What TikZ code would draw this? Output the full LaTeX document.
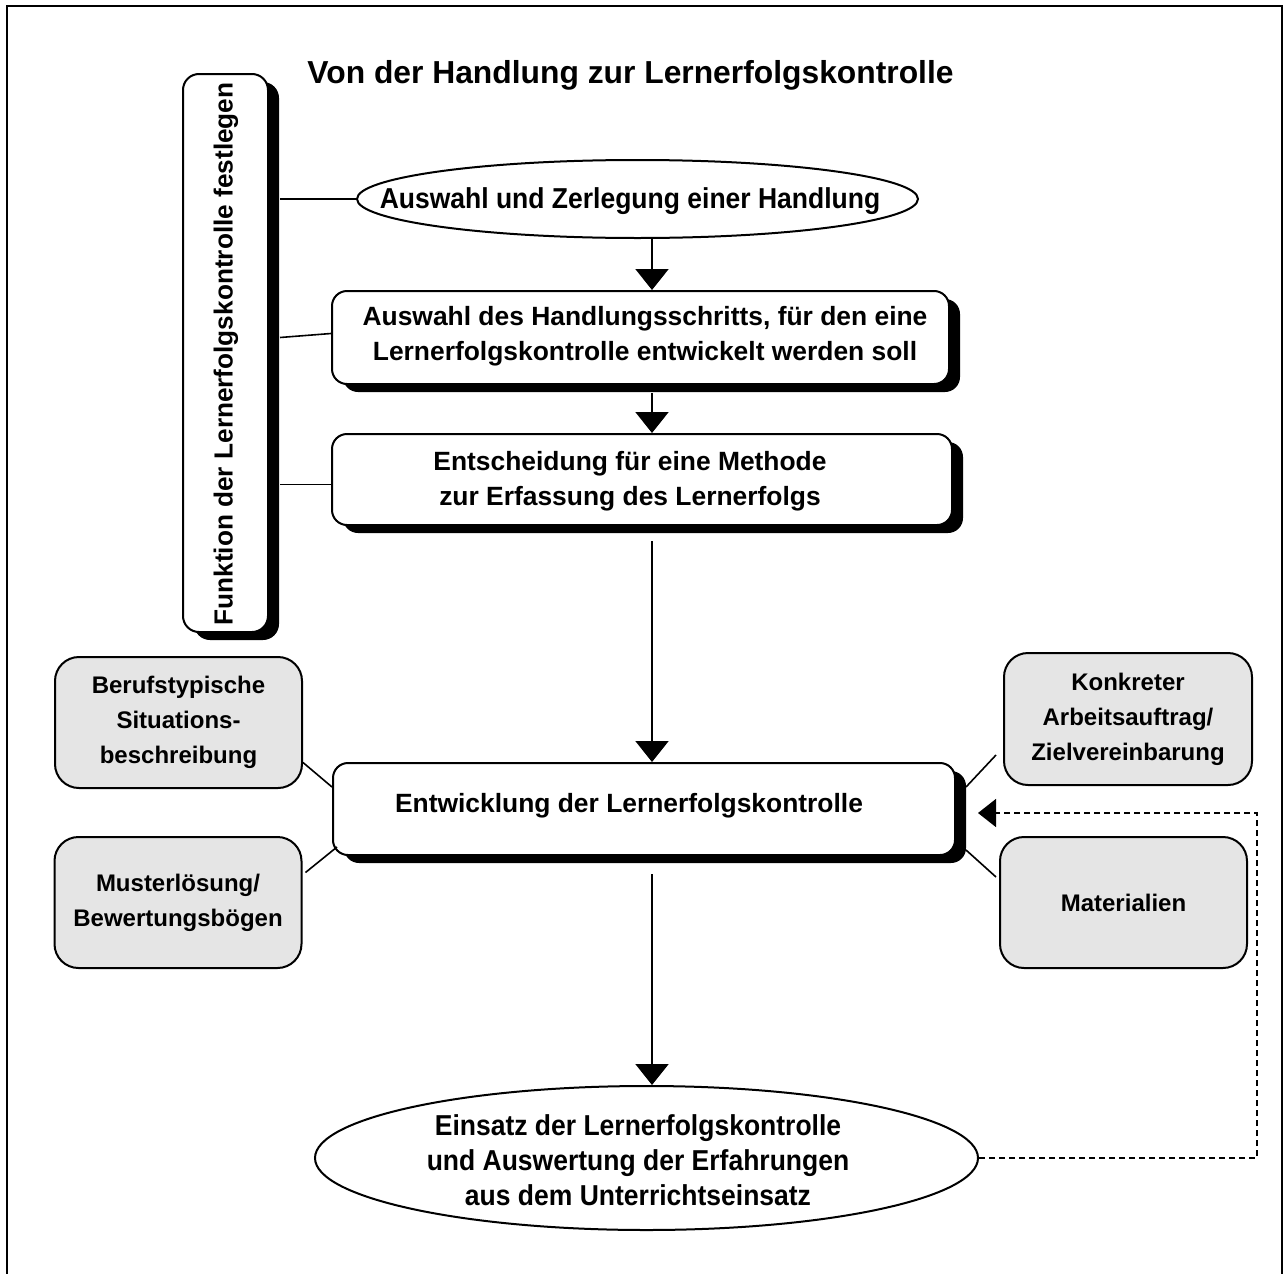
\documentclass[tikz,border=0pt]{standalone}
\usepackage{fontspec}
\setmainfont{Liberation Sans}
\newfontfamily\elf{Liberation Sans}[FakeStretch=0.92]
\usetikzlibrary{shapes.geometric,arrows.meta,shadows,calc}
\definecolor{gfill}{HTML}{E5E5E5}
\begin{document}
\begin{tikzpicture}[x=0.5pt,y=-0.5pt,
  wbox/.style={draw, line width=1pt, rounded corners=7.5pt, fill=white, inner sep=0,
    drop shadow={shadow xshift=5.5pt,shadow yshift=-4pt,fill=black,opacity=1}},
  gbox/.style={draw, line width=1pt, rounded corners=12pt, fill=gfill, minimum width=123.5pt,
    minimum height=65.5pt, align=center, inner sep=0,
    font=\fontsize{12pt}{17.5pt}\selectfont\bfseries},
  ellnode/.style={draw, ellipse, line width=1pt, fill=white, inner sep=0},
  btxt/.style={align=center, inner sep=0, font=\fontsize{13.2pt}{17.5pt}\selectfont\bfseries},
  etxt/.style={align=center, inner sep=0, font=\elf\fontsize{14.4pt}{17.5pt}\selectfont\bfseries},
  flowarrow/.style={line width=1pt, -{Triangle[width=16.5pt,length=10.5pt]}},
  connline/.style={line width=0.8pt},
  backarrow/.style={line width=0.8pt, dash pattern=on 3pt off 2pt, -{Triangle[width=14pt,length=9pt]}},
]
\useasboundingbox (0,0) rectangle (1285,1274);
% frame
\draw[line width=1pt] (7,1274) -- (7,6) -- (1282,6) -- (1282,1274);

% title
\node[anchor=base, inner sep=0, font=\fontsize{15.9pt}{18pt}\selectfont\bfseries] (title) at (630.5,83) {Von der Handlung zur Lernerfolgskontrolle};

% vertical box
\node[wbox, rounded corners=8pt, minimum width=42.5pt, minimum height=279pt] (vbox) at (225.5,353) {};
\node[btxt, rotate=90, font=\fontsize{13.1pt}{15pt}\selectfont\bfseries] (vtxt) at (226,354) {Funktion der Lernerfolgskontrolle festlegen};

% main flow
\node[ellnode, minimum width=280.5pt, minimum height=39pt] (e1) at (637.5,199) {};
\node[etxt, anchor=base] (t1) at (630,208) {Auswahl und Zerlegung einer Handlung};

\node[wbox, minimum width=308.5pt, minimum height=46.5pt] (b2) at (640.5,337.5) {};
\node[btxt] (t2) at (645,336) {Auswahl des Handlungsschritts, für den eine\\Lernerfolgskontrolle entwickelt werden soll};

\node[wbox, minimum width=310pt, minimum height=45.5pt] (b3) at (642,479.5) {};
\node[btxt] (t3) at (630,481) {Entscheidung für eine Methode\\zur Erfassung des Lernerfolgs};

\node[wbox, minimum width=311pt, minimum height=46pt] (b4) at (644,809) {};
\node[btxt, anchor=base] (t4) at (629,812) {Entwicklung der Lernerfolgskontrolle};

\node[ellnode, minimum width=331.5pt, minimum height=72pt] (e2) at (646.5,1158) {};
\node[etxt] (t5) at (638,1160) {Einsatz der Lernerfolgskontrolle\\und Auswertung der Erfahrungen\\aus dem Unterrichtseinsatz};

% grey boxes
\node[gbox] (g1) at (178.5,722.5) {Berufstypische\\Situations-\\beschreibung};
\node[gbox] (g2) at (178,902.5) {Musterlösung/\\Bewertungsbögen};
\node[gbox, minimum width=124pt, minimum height=66pt] (g3) at (1128,719) {Konkreter\\Arbeitsauftrag/\\Zielvereinbarung};
\node[gbox] (g4) at (1123.5,902.5) {Materialien};

% arrows
\coordinate (ax) at (652,0);
\draw[flowarrow] (e1.south -| ax) -- (b2.north -| ax);
\draw[flowarrow] ($(b2.south -| ax)+(0,8)$) -- (b3.north -| ax);
\draw[flowarrow] ($(b3.south -| ax)+(0,15)$) -- (b4.north -| ax);
\draw[flowarrow] ($(b4.south -| ax)+(0,18)$) -- (e2.north -| ax);

% connectors from vertical box
\draw[connline] ($(vbox.east |- e1.west)+(11,0)$) -- (e1.west);
\draw[connline] ($(vbox.east |- b2.west)+(11,0)$) -- ($(b2.west)+(0,-4)$);
\draw[connline] ($(vbox.east |- b3.west)+(11,5)$) -- ($(b3.west)+(0,5)$);

% connectors from grey boxes
\draw[connline] ($(g1.east)+(0,40)$) -- ($(b4.west)+(0,-22)$);
\draw[connline] ($(g2.east)+(3,-30)$) -- ($(b4.west)+(5,38)$);
\draw[connline] ($(g3.west)+(-7,36)$) -- ($(b4.east)+(10,-22)$);
\draw[connline] ($(g4.west)+(-3,-25.5)$) -- ($(b4.east)+(10,41)$);

% feedback
\coordinate (dc) at (1257,813);
\draw[backarrow] (e2.east) -| (dc) -- ($(b4.east |- dc)+(22,0)$);
\end{tikzpicture}
\end{document}
